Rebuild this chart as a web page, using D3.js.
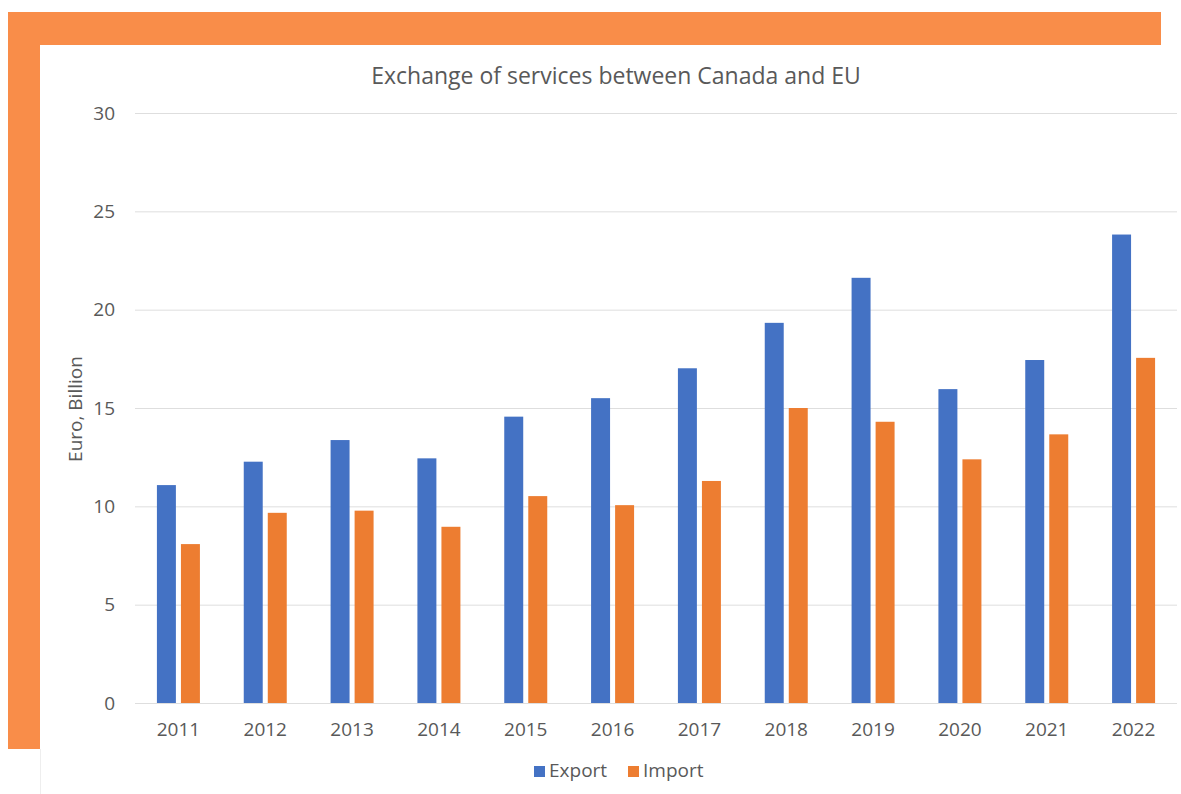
<!DOCTYPE html>
<html>
<head>
<meta charset="utf-8">
<script src="https://cdn.jsdelivr.net/npm/d3@7"></script>
<style>
  html, body { margin: 0; padding: 0; background: #ffffff; }
  svg { display: block; }
</style>
</head>
<body>
<svg id="chart" width="1181" height="794"></svg>
<script>
// Services trade between Canada and the EU, billions of euro
const years = ["2011","2012","2013","2014","2015","2016","2017","2018","2019","2020","2021","2022"];
const exportValues = [11.08, 12.27, 13.37, 12.44, 14.56, 15.5, 17.02, 19.33, 21.62, 15.96, 17.44, 23.82];
const importValues = [8.08, 9.67, 9.78, 8.96, 10.52, 10.06, 11.29, 15.0, 14.3, 12.39, 13.66, 17.55];
const seriesNames = ["Export", "Import"];
const yTicks = [0, 5, 10, 15, 20, 25, 30];

const colors = { Export: "#4472C4", Import: "#ED7D31" };
const textColor = "#595959";
const font = "'Open Sans', 'Noto Sans', sans-serif";

const svg = d3.select("#chart");

// decorative frame
svg.append("rect").attr("x", 8).attr("y", 12).attr("width", 1153).attr("height", 33).attr("fill", "#F98D49");
svg.append("rect").attr("x", 8).attr("y", 12).attr("width", 32).attr("height", 737).attr("fill", "#F98D49");
svg.append("line").attr("x1", 40.5).attr("x2", 40.5).attr("y1", 749).attr("y2", 794)
  .attr("stroke", "#eeeeee").attr("stroke-width", 1);

const plot = { left: 135, right: 1177, top: 113, bottom: 703 };

const x0 = d3.scaleBand().domain(years).range([plot.left, plot.right]).padding(0);
const groupHalf = 21.5;
const x1 = d3.scaleBand().domain(seriesNames)
  .range([x0.bandwidth() / 2 - groupHalf, x0.bandwidth() / 2 + groupHalf])
  .paddingInner(0.21);
const y = d3.scaleLinear().domain([0, 30]).range([plot.bottom, plot.top]);

// gridlines
svg.append("g")
  .attr("transform", `translate(${plot.left},0)`)
  .call(d3.axisLeft(y).tickValues(yTicks).tickSize(-(plot.right - plot.left)).tickFormat(""))
  .call(g => g.select(".domain").remove())
  .call(g => g.selectAll("line").attr("stroke", "#dedede").attr("stroke-width", 1));

// y tick labels
svg.append("g")
  .attr("transform", `translate(${plot.left - 20},0)`)
  .call(d3.axisLeft(y).tickValues(yTicks).tickSize(0).tickPadding(0))
  .call(g => g.select(".domain").remove())
  .call(g => g.selectAll("text").attr("fill", textColor).attr("font-family", font).attr("font-size", 19));

// bars
const data = years.map((yr, i) => ({ year: yr, Export: exportValues[i], Import: importValues[i] }));
const groups = svg.append("g").selectAll("g").data(data).join("g")
  .attr("transform", d => `translate(${x0(d.year)},0)`);
groups.selectAll("rect")
  .data(d => seriesNames.map(s => ({ key: s, value: d[s] })))
  .join("rect")
  .attr("x", d => x1(d.key))
  .attr("width", x1.bandwidth())
  .attr("y", d => y(d.value))
  .attr("height", d => y(0) - y(d.value))
  .attr("fill", d => colors[d.key]);

// x axis labels
svg.append("g")
  .attr("transform", `translate(0,${plot.bottom})`)
  .call(d3.axisBottom(x0).tickSize(0).tickPadding(20))
  .call(g => g.select(".domain").remove())
  .call(g => g.selectAll("text").attr("fill", textColor).attr("font-family", font).attr("font-size", 19));

// title
svg.append("text")
  .attr("x", 616).attr("y", 84)
  .attr("text-anchor", "middle")
  .attr("fill", textColor).attr("font-family", font).attr("font-size", 23)
  .text("Exchange of services between Canada and EU");

// y axis title
svg.append("text")
  .attr("transform", "translate(82,409) rotate(-90)")
  .attr("text-anchor", "middle")
  .attr("fill", textColor).attr("font-family", font).attr("font-size", 19)
  .text("Euro, Billion");

// legend
const legend = svg.append("g").attr("transform", "translate(534,777)");
const legendX = [0, 94];
seriesNames.forEach((s, i) => {
  const g = legend.append("g").attr("transform", `translate(${legendX[i]},0)`);
  g.append("rect").attr("x", 0).attr("y", -11).attr("width", 11).attr("height", 11).attr("fill", colors[s]);
  g.append("text").attr("x", 15).attr("y", 0)
    .attr("fill", textColor).attr("font-family", font).attr("font-size", 19).text(s);
});
</script>
</body>
</html>
